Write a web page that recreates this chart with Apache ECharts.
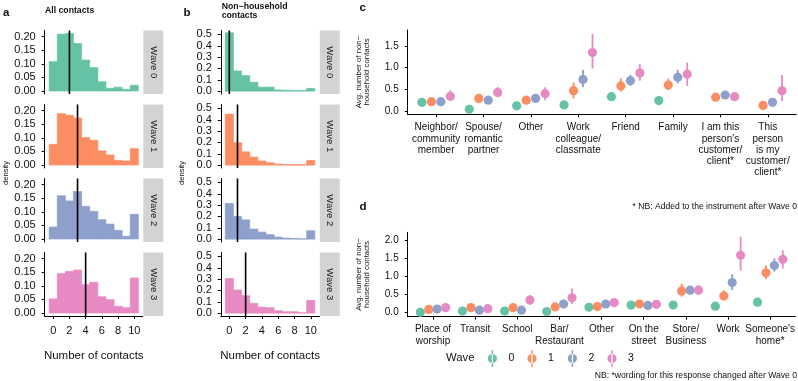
<!DOCTYPE html>
<html><head><meta charset="utf-8">
<script src="https://cdn.jsdelivr.net/npm/echarts@6/dist/echarts.min.js"></script>
<style>html,body{margin:0;padding:0;background:#fff}#c{width:798px;height:381px}</style>
</head><body><div id="c"></div>
<script>
// ---------- DATA ----------
const bins = [0,1,2,3,4,5,6,7,8,9,10];
const waveLabels = ['Wave 0','Wave 1','Wave 2','Wave 3'];
// panel a: all contacts (density per bin)
const allWave0 = [0.108,0.209,0.212,0.175,0.114,0.086,0.034,0.010,0.014,0.006,0.021];
const allWave1 = [0.076,0.189,0.183,0.173,0.101,0.091,0.052,0.037,0.017,0.015,0.060];
const allWave2 = [0.044,0.159,0.140,0.175,0.120,0.102,0.071,0.055,0.032,0.010,0.091];
const allWave3 = [0.052,0.145,0.153,0.158,0.104,0.113,0.060,0.049,0.025,0.020,0.129];
const allMedians = [2,3,3,4];
// panel b: non-household contacts
const nhWave0 = [0.515,0.178,0.137,0.078,0.035,0.035,0.010,0.008,0.005,0.005,0.024];
const nhWave1 = [0.450,0.197,0.117,0.071,0.036,0.021,0.009,0.004,0.004,0.004,0.041];
const nhWave2 = [0.315,0.200,0.170,0.089,0.062,0.039,0.018,0.009,0.006,0.002,0.074];
const nhWave3 = [0.305,0.204,0.154,0.086,0.053,0.047,0.021,0.012,0.012,0.003,0.112];
const nhMedians = [0,1,1,2];
const histXTicks = [0,2,4,6,8,10];
const allYTicks = [0,0.05,0.10,0.15,0.20];
const nhYTicks = [0,0.1,0.2,0.3,0.4,0.5];

// panel c: relationship categories
const relCategories = ['Neighbor/\ncommunity\nmember','Spouse/\nromantic\npartner','Other','Work\ncolleague/\nclassmate','Friend','Family',"I am this\nperson's\ncustomer/\nclient*",'This\nperson\nis my\ncustomer/\nclient*'];
const relMean0 = [0.20,0.04,0.12,0.14,0.33,0.24,null,null];
const relLo0   = [0.16,0.01,0.08,0.10,0.27,0.19,null,null];
const relHi0   = [0.24,0.07,0.16,0.18,0.39,0.29,null,null];
const relMean1 = [0.215,0.29,0.25,0.47,0.58,0.60,0.32,0.13];
const relLo1   = [0.17,0.23,0.19,0.29,0.45,0.48,0.27,0.09];
const relHi1   = [0.26,0.35,0.31,0.66,0.75,0.75,0.38,0.18];
const relMean2 = [0.215,0.25,0.29,0.73,0.70,0.78,0.37,0.20];
const relLo2   = [0.17,0.20,0.22,0.55,0.58,0.64,0.30,0.14];
const relHi2   = [0.26,0.31,0.37,0.95,0.83,0.95,0.44,0.27];
const relMean3 = [0.34,0.43,0.40,1.35,0.88,0.85,0.33,0.47];
const relLo3   = [0.23,0.32,0.25,0.98,0.70,0.58,0.26,0.23];
const relHi3   = [0.48,0.55,0.55,1.78,1.08,1.12,0.40,0.83];
const relYTicks = [0,0.5,1.0,1.5];

// panel d: location categories
const locCategories = ['Place of\nworship','Transit','School','Bar/\nRestaurant','Other','On the\nstreet','Store/\nBusiness','Work',"Someone's\nhome*"];
const locMean0 = [0.01,0.045,0.045,0.03,0.15,0.21,0.21,0.18,0.29];
const locLo0   = [0.00,0.02,0.02,0.01,0.11,0.16,0.16,0.13,0.23];
const locHi0   = [0.03,0.07,0.07,0.05,0.19,0.26,0.26,0.23,0.35];
const locMean1 = [0.09,0.14,0.14,0.16,0.17,0.24,0.60,0.46,1.10];
const locLo1   = [0.05,0.09,0.09,0.11,0.12,0.18,0.44,0.35,0.92];
const locHi1   = [0.13,0.19,0.19,0.22,0.23,0.30,0.80,0.62,1.31];
const locMean2 = [0.10,0.07,0.07,0.24,0.24,0.20,0.62,0.83,1.30];
const locLo2   = [0.06,0.04,0.03,0.16,0.17,0.14,0.52,0.62,1.13];
const locHi2   = [0.15,0.11,0.12,0.33,0.32,0.27,0.73,1.06,1.50];
const locMean3 = [0.14,0.11,0.35,0.41,0.28,0.23,0.62,1.58,1.47];
const locLo3   = [0.08,0.06,0.21,0.24,0.20,0.16,0.50,1.16,1.22];
const locHi3   = [0.21,0.17,0.49,0.67,0.37,0.31,0.75,2.09,1.72];
const locYTicks = [0,0.5,1.0,1.5,2.0];
const legendNames = ['0','1','2','3'];

// ---------- STYLE / LAYOUT ----------
const COLORS = ['#66c2a5','#fc8d62','#8da0cb','#e78ac3'];
const FONT = 'Liberation Sans';
const INK = '#111';
const dodge = [-0.3,-0.1,0.1,0.3];

const grids=[], xAxes=[], yAxes=[], series=[], graphics=[];

function axisBase(gi){
  return {gridIndex:gi, splitLine:{show:false},
    axisLine:{show:true, onZero:false, lineStyle:{color:'#000', width:1}},
    axisTick:{show:true, length:3, lineStyle:{color:'#000', width:1}}};
}

function histPanel(left, width, top, height, data, median, color, ymin, ymax, yTicks, yDigits, showX, strip, key){
  const gi = grids.length;
  grids.push({left, top, width, height});
  const xa = axisBase(gi);
  Object.assign(xa, {type:'value', min:-1.05, max:11.05, show:showX,
    name: showX ? 'Number of contacts' : '', nameLocation:'middle', nameGap:33.5,
    nameTextStyle:{fontSize:11.5, color:INK, fontFamily:FONT}});
  xa.axisTick.customValues = histXTicks;
  xa.axisLabel = {customValues:histXTicks, fontSize:11, color:INK, fontFamily:FONT, margin:9};
  xAxes.push(xa);
  const ya = axisBase(gi);
  Object.assign(ya, {type:'value', min:ymin, max:ymax});
  ya.axisTick.customValues = yTicks;
  ya.axisLabel = {customValues:yTicks, formatter:v=>v.toFixed(yDigits), fontSize:11, color:INK, fontFamily:FONT, margin:9};
  yAxes.push(ya);
  series.push({type:'custom', name:key, xAxisIndex:gi, yAxisIndex:gi, silent:true,
    data: bins.map((b,i)=>[b, data[i]]),
    renderItem:(params, api)=>{
      const x = api.value(0), y = api.value(1);
      const p1 = api.coord([x-0.5, y]), p2 = api.coord([x+0.5, 0]);
      return {type:'rect', shape:{x:p1[0], y:p1[1], width:p2[0]-p1[0], height:p2[1]-p1[1]},
        style:{fill:color, stroke:color, lineWidth:0.7}};
    }});
  series.push({type:'custom', name:key+'-median', xAxisIndex:gi, yAxisIndex:gi, silent:true,
    data:[[median]],
    renderItem:(params, api)=>{
      const cs = params.coordSys;
      const px = api.coord([api.value(0), 0])[0];
      return {type:'line', shape:{x1:px, y1:cs.y, x2:px, y2:cs.y+cs.height}, style:{stroke:'#000', lineWidth:1.6}};
    }});
  const sx = left + width + 0.5;
  graphics.push({type:'rect', silent:true, shape:{x:sx, y:top, width:20, height:height}, style:{fill:'#d3d3d3'}});
  graphics.push({type:'text', silent:true, x:sx+10, y:top+height/2, rotation:-Math.PI/2,
    style:{text:strip, fontSize:9.5, fontFamily:FONT, fill:'#1a1a1a', textAlign:'center', textVerticalAlign:'middle', align:'center', verticalAlign:'middle'}});
}

const panelTops = [30.5,104.5,178.5,252.5];
const panelH = 63.5;
const allData = [allWave0, allWave1, allWave2, allWave3];
const nhData = [nhWave0, nhWave1, nhWave2, nhWave3];
for (let w=0; w<4; w++){
  histPanel(44.7, 98.1, panelTops[w], panelH, allData[w], allMedians[w], COLORS[w], -0.011, 0.2226, allYTicks, 2, w===3, waveLabels[w], 'a'+w);
}
for (let w=0; w<4; w++){
  histPanel(220.8, 98.5, panelTops[w], panelH, nhData[w], nhMedians[w], COLORS[w], -0.0255, 0.535, nhYTicks, 1, w===3, waveLabels[w], 'b'+w);
}

function dotPanel(left, width, top, height, cats, ymin, ymax, yTicks, means, los, his, lineH, margin){
  const gi = grids.length;
  grids.push({left, top, width, height});
  const idx = cats.map((c,i)=>i);
  const xa = axisBase(gi);
  Object.assign(xa, {type:'value', min:-0.6, max:cats.length-1+0.6});
  xa.axisTick.customValues = idx;
  xa.axisLabel = {customValues:idx, formatter:v=>cats[Math.round(v)], fontSize:10, lineHeight:lineH, color:INK, fontFamily:FONT, margin:margin, align:'center'};
  xAxes.push(xa);
  const ya = axisBase(gi);
  Object.assign(ya, {type:'value', min:ymin, max:ymax});
  ya.axisTick.customValues = yTicks;
  ya.axisLabel = {customValues:yTicks, formatter:v=>v.toFixed(1), fontSize:10, color:INK, fontFamily:FONT, margin:9};
  yAxes.push(ya);
  for (let w=0; w<4; w++){
    const color = COLORS[w], off = dodge[w];
    const data = [];
    means[w].forEach((m,i)=>{ if (m!=null) data.push([i, m, los[w][i], his[w][i]]); });
    series.push({type:'custom', name:legendNames[w], xAxisIndex:gi, yAxisIndex:gi, itemStyle:{color}, silent:true,
      data,
      renderItem:(params, api)=>{
        const x = api.value(0) + off;
        const c = api.coord([x, api.value(1)]);
        const lo = api.coord([x, api.value(2)]);
        const hi = api.coord([x, api.value(3)]);
        return {type:'group', children:[
          {type:'line', shape:{x1:lo[0], y1:lo[1], x2:hi[0], y2:hi[1]}, style:{stroke:color, lineWidth:1.8}},
          {type:'circle', shape:{cx:c[0], cy:c[1], r:4.6}, style:{fill:color}}
        ]};
      }});
  }
}

dotPanel(407.7, 388.5, 30, 84.3, relCategories, -0.076, 1.87, relYTicks,
  [relMean0,relMean1,relMean2,relMean3],[relLo0,relLo1,relLo2,relLo3],[relHi0,relHi1,relHi2,relHi3], 11.25, 7.8);
dotPanel(407.7, 389.5, 232.3, 84.4, locCategories, -0.11, 2.215, locYTicks,
  [locMean0,locMean1,locMean2,locMean3],[locLo0,locLo1,locLo2,locLo3],[locHi0,locHi1,locHi2,locHi3], 11.6, 7);

function txt(x, y, text, size, opts){
  graphics.push(Object.assign({type:'text', silent:true, x, y, rotation:(opts&&opts.rot)||0,
    style:Object.assign({text, fontSize:size, fontFamily:FONT, fill:INK,
      textAlign:(opts&&opts.align)||'left', align:(opts&&opts.align)||'left',
      textVerticalAlign:'middle', verticalAlign:'middle',
      fontWeight:(opts&&opts.bold)?'bold':'normal', lineHeight:(opts&&opts.lh)||size*1.15})}));
}
txt(3, 12.5, 'a', 11.5, {bold:true});
txt(45, 11, 'All contacts', 8.7, {bold:true});
txt(183.5, 12.5, 'b', 11.5, {bold:true});
txt(221.7, 11.4, 'Non\u2212household\ncontacts', 8.7, {bold:true, lh:9.4});
txt(359.5, 7.5, 'c', 11.5, {bold:true});
txt(359.5, 206.7, 'd', 11.5, {bold:true});
txt(797, 207, '* NB: Added to the instrument after Wave 0', 8.6, {align:'right'});
txt(797, 376, 'NB: *wording for this response changed after Wave 0', 8.6, {align:'right'});
txt(5.5, 173, 'density', 7.6, {align:'center', rot:Math.PI/2});
txt(181.5, 173, 'density', 7.6, {align:'center', rot:Math.PI/2});
txt(363, 72, 'Avg. number of non\u2212\nhousehold contacts', 7.8, {align:'center', rot:Math.PI/2, lh:8});
txt(363, 274.5, 'Avg. number of non\u2212\nhousehold contacts', 7.8, {align:'center', rot:Math.PI/2, lh:8});
txt(446, 358.3, 'Wave', 11.3);

const ICON = 'path://M9.3,0H10.7V17H9.3Z M5.4,8.5A4.6,4.6,0,1,0,14.6,8.5A4.6,4.6,0,1,0,5.4,8.5Z';
const legendLefts = [487.8, 527.4, 567.8, 607.4];
const legends = legendNames.map((n,i)=>({left:legendLefts[i], top:350, padding:0, itemWidth:10, itemHeight:17,
  selectedMode:false, textStyle:{fontSize:10.5, color:INK, fontFamily:FONT, padding:[0,0,0,6]},
  data:[{name:n, icon:ICON}]}));

const chart = echarts.init(document.getElementById('c'), null, {renderer:'canvas', width:798, height:381});
chart.setOption({
  animation:false,
  backgroundColor:'#ffffff',
  grid:grids, xAxis:xAxes, yAxis:yAxes, series,
  legend:legends,
  graphic:graphics
});
</script></body></html>
